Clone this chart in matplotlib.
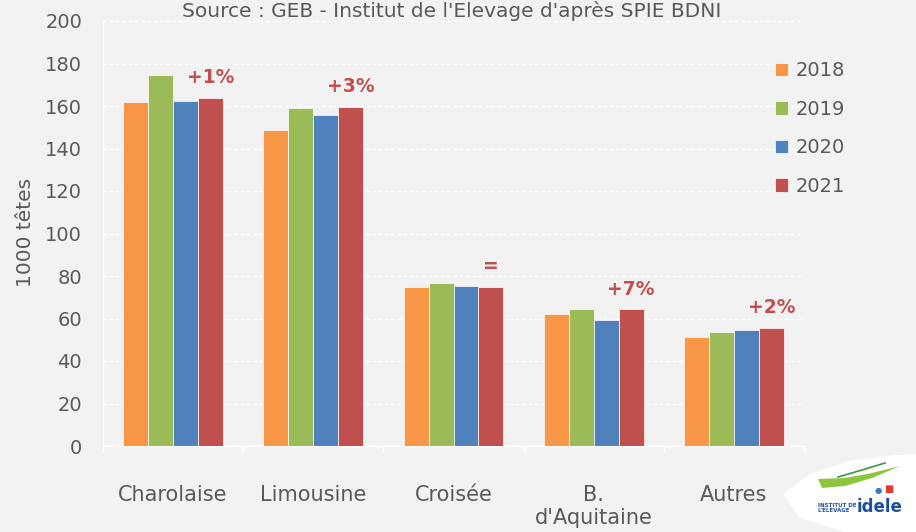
import matplotlib
matplotlib.use("Agg")
import matplotlib.pyplot as plt
import numpy as np
from matplotlib.patches import Polygon

categories = ["Charolaise", "Limousine", "Croisée", "B.\nd'Aquitaine", "Autres"]
years = ["2018", "2019", "2020", "2021"]
v2018 = [162.0, 148.6, 74.8, 62.3, 51.3]
v2019 = [174.4, 159.1, 76.7, 64.3, 53.6]
v2020 = [162.5, 155.6, 75.3, 59.3, 54.6]
v2021 = [163.9, 159.5, 74.8, 64.3, 55.5]
evolution = ["+1%", "+3%", "=", "+7%", "+2%"]
yticks = [0, 20, 40, 60, 80, 100, 120, 140, 160, 180, 200]

colors = ["#f79646", "#9bbb59", "#4f81bd", "#c0504d"]
bg = "#f2f2f2"
txt = "#595959"
plt.rcParams["font.family"] = ["DejaVu Sans"]

fig = plt.figure(figsize=(9.16, 5.32), dpi=100, facecolor=bg)
ax = fig.add_axes([103/916, 1-446/532, (804-103)/916, (446-21)/532], facecolor=bg)

series = [v2018, v2019, v2020, v2021]
x = np.arange(len(categories))
w = 0.178
for i, (vals, c, lab) in enumerate(zip(series, colors, years)):
    ax.bar(x + (i - 1.5) * w, vals, width=w, color=c, edgecolor="#ffffff", linewidth=0.5, label=lab, zorder=3)

for xi, v, t in zip(x, v2021, evolution):
    ax.annotate(t, (xi + 1.5 * w, v), xytext=(0, 14.5), textcoords="offset points",
                ha="center", va="center", fontsize=13.5, fontweight="bold", color="#c0504d", zorder=4)

ax.set_xlim(-0.5, len(categories) - 0.5)
ax.set_ylim(0, 200)
ax.set_yticks(yticks)
ax.set_yticklabels([str(t) for t in yticks])
ax.yaxis.grid(True, color="white", linestyle=(0, (3, 2)), linewidth=0.9, zorder=0)
ax.set_axisbelow(True)

ax.set_xticks(np.arange(len(categories) + 1) - 0.5, minor=False)
ax.set_xticklabels([])
ax.set_xticks(x, minor=True)
ax.set_xticklabels(categories, minor=True)
ax.tick_params(axis="x", which="major", length=5, color="white", width=1)
ax.tick_params(axis="x", which="minor", length=0, pad=28, labelsize=15, labelcolor=txt)
for lbl in ax.get_xticklabels(minor=True):
    lbl.set_verticalalignment("top")
ax.tick_params(axis="y", length=0, pad=15, labelsize=14, labelcolor=txt)

for s in ["top", "right"]:
    ax.spines[s].set_visible(False)
ax.spines["left"].set_color("white")
ax.spines["bottom"].set_color("white")
ax.spines["left"].set_linewidth(1)
ax.spines["bottom"].set_linewidth(1)

ax.set_ylabel("1000 têtes", fontsize=14.5, color=txt)
ax.yaxis.set_label_coords(-(103-35)/701, (446-232)/425)

leg = fig.legend(loc="upper left", bbox_to_anchor=(757/916, 1-44/532), frameon=False,
                 fontsize=14, labelcolor=txt, handlelength=0.7, handleheight=0.7,
                 handletextpad=0.4, labelspacing=1.0)

fig.text(452/916, 1-1/532, "Source : GEB - Institut de l'Elevage d'après SPIE BDNI",
         ha="center", va="top", fontsize=14.5, color=txt)

# logo approximation
logo = Polygon([[783/916, 1-494/532], [810/916, 1-474/532], [850/916, 1-461/532],
                [895/916, 1-455/532], [916/916, 1-454/532], [916/916, 0],
                [845/916, 0], [800/916, 1-518/532]],
               closed=True, transform=fig.transFigure, facecolor="white", edgecolor="none")
fig.patches.append(logo)
swoosh = Polygon([[818/916, 1-479/532], [845/916, 1-478/532], [872/916, 1-473/532],
                  [900/916, 1-466/532], [872/916, 1-478/532], [845/916, 1-486/532],
                  [822/916, 1-488/532]],
                 closed=True, transform=fig.transFigure, facecolor="#8cc63f", edgecolor="none")
fig.patches.append(swoosh)
fig.lines.append(plt.Line2D([838/916, 862/916, 885/916], [1-477/532, 1-470/532, 1-463/532],
                            transform=fig.transFigure, color="#3a9a3a", linewidth=1.2))
fig.text(818/916, 1-508/532, "INSTITUT DE\nL'ÉLEVAGE", fontsize=4, fontweight="bold",
         color="#1a4f9c", ha="left", va="center", linespacing=1.0)
fig.text(857/916, 1-507/532, "idele", fontsize=12, fontweight="bold", color="#1a4f9c",
         ha="left", va="center")
fig.text(878/916, 1-491/532, "\u25cf", fontsize=6, color="#3a7cc4", ha="center", va="center")
fig.text(889/916, 1-489/532, "\u25a0", fontsize=7, color="#e53935", ha="center", va="center")

fig.savefig("out.png", dpi=100, facecolor=bg)
